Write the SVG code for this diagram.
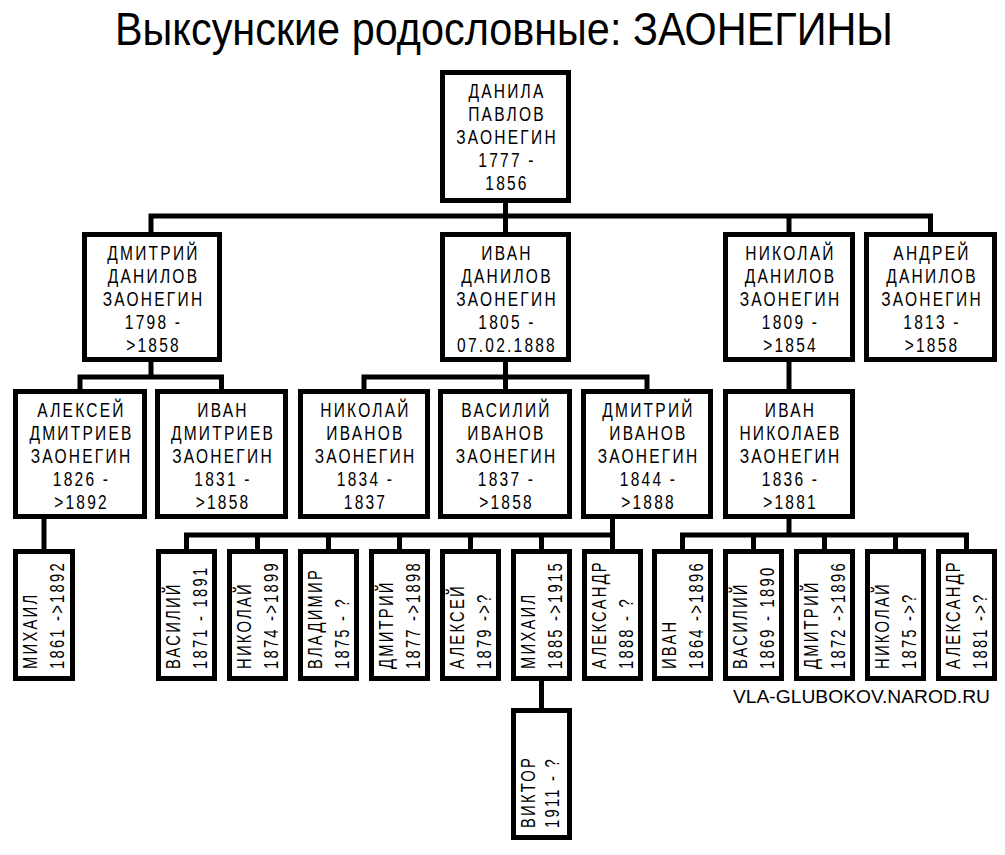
<svg xmlns="http://www.w3.org/2000/svg" width="1005" height="855" viewBox="0 0 1005 855">
<style>
.box{fill:#fff;stroke:#000;stroke-width:5}
.ln{fill:none;stroke:#000;stroke-width:5;stroke-linejoin:miter}
.t{font-family:"Liberation Sans",Arial,sans-serif;font-size:21px;letter-spacing:3px;text-anchor:middle;fill:#000}
.v{font-family:"Liberation Sans",Arial,sans-serif;font-size:20px;letter-spacing:3px;fill:#000}
.title{font-family:"Liberation Sans",Arial,sans-serif;font-size:46px;fill:#000}
.wm{font-family:"Liberation Sans",Arial,sans-serif;font-size:18px;fill:#000}
</style>
<rect width="1005" height="855" fill="#fff"/>
<text class="title" x="115" y="45" textLength="778" lengthAdjust="spacingAndGlyphs">Выксунские родословные: ЗАОНЕГИНЫ</text>
<text class="wm" x="733" y="703" textLength="257" lengthAdjust="spacingAndGlyphs">VLA-GLUBOKOV.NAROD.RU</text>

<g id="connectors">
<path class="ln" d="M151 232 V216 H930.5 V232 M505.5 203 V232 M789 216 V232"/>
<path class="ln" d="M151 362 V377 M80 389 V377 H221.5 V389"/>
<path class="ln" d="M505.5 362 V389 M364 389 V377 H647 V389"/>
<path class="ln" d="M789 362 V389"/>
<path class="ln" d="M44 519 V549"/>
<path class="ln" d="M612.5 519 V549 M186.5 549 V535 H612.5 M257.5 535 V549 M328.5 535 V549 M399.5 535 V549 M470.5 535 V549 M541.5 535 V549"/>
<path class="ln" d="M789 519 V535 M682.5 549 V535 H966.5 V549 M753.5 535 V549 M824.5 535 V549 M895.5 535 V549"/>
<path class="ln" d="M541.5 681 V708"/>
</g>

<g id="danila">
<rect class="box" x="442.5" y="72.5" width="126" height="128"/>
<text class="t" transform="translate(507 98) scale(0.74 1)">ДАНИЛА</text>
<text class="t" transform="translate(507 121) scale(0.74 1)">ПАВЛОВ</text>
<text class="t" transform="translate(507 144) scale(0.74 1)">ЗАОНЕГИН</text>
<text class="t" transform="translate(507 167) scale(0.74 1)">1777 -</text>
<text class="t" transform="translate(507 190) scale(0.74 1)">1856</text>
</g>

<g id="dmitriy-d">
<rect class="box" x="84.5" y="234.5" width="135" height="125"/>
<text class="t" transform="translate(153.5 259.5) scale(0.74 1)">ДМИТРИЙ</text>
<text class="t" transform="translate(153.5 282.5) scale(0.74 1)">ДАНИЛОВ</text>
<text class="t" transform="translate(153.5 305.5) scale(0.74 1)">ЗАОНЕГИН</text>
<text class="t" transform="translate(153.5 328.5) scale(0.74 1)">1798 -</text>
<text class="t" transform="translate(153.5 351.5) scale(0.74 1)">&gt;1858</text>
</g>

<g id="ivan-d">
<rect class="box" x="442.5" y="234.5" width="126" height="125"/>
<text class="t" transform="translate(507 259.5) scale(0.74 1)">ИВАН</text>
<text class="t" transform="translate(507 282.5) scale(0.74 1)">ДАНИЛОВ</text>
<text class="t" transform="translate(507 305.5) scale(0.74 1)">ЗАОНЕГИН</text>
<text class="t" transform="translate(507 328.5) scale(0.74 1)">1805 -</text>
<text class="t" transform="translate(507 351.5) scale(0.74 1)">07.02.1888</text>
</g>

<g id="nikolay-d">
<rect class="box" x="725.5" y="234.5" width="127" height="125"/>
<text class="t" transform="translate(790.5 259.5) scale(0.74 1)">НИКОЛАЙ</text>
<text class="t" transform="translate(790.5 282.5) scale(0.74 1)">ДАНИЛОВ</text>
<text class="t" transform="translate(790.5 305.5) scale(0.74 1)">ЗАОНЕГИН</text>
<text class="t" transform="translate(790.5 328.5) scale(0.74 1)">1809 -</text>
<text class="t" transform="translate(790.5 351.5) scale(0.74 1)">&gt;1854</text>
</g>

<g id="andrey-d">
<rect class="box" x="866.5" y="234.5" width="128" height="125"/>
<text class="t" transform="translate(932 259.5) scale(0.74 1)">АНДРЕЙ</text>
<text class="t" transform="translate(932 282.5) scale(0.74 1)">ДАНИЛОВ</text>
<text class="t" transform="translate(932 305.5) scale(0.74 1)">ЗАОНЕГИН</text>
<text class="t" transform="translate(932 328.5) scale(0.74 1)">1813 -</text>
<text class="t" transform="translate(932 351.5) scale(0.74 1)">&gt;1858</text>
</g>

<g id="aleksey-dm">
<rect class="box" x="15.5" y="391.5" width="129" height="125"/>
<text class="t" transform="translate(81.5 416.5) scale(0.74 1)">АЛЕКСЕЙ</text>
<text class="t" transform="translate(81.5 439.5) scale(0.74 1)">ДМИТРИЕВ</text>
<text class="t" transform="translate(81.5 462.5) scale(0.74 1)">ЗАОНЕГИН</text>
<text class="t" transform="translate(81.5 485.5) scale(0.74 1)">1826 -</text>
<text class="t" transform="translate(81.5 508.5) scale(0.74 1)">&gt;1892</text>
</g>

<g id="ivan-dm">
<rect class="box" x="157.5" y="391.5" width="128" height="125"/>
<text class="t" transform="translate(223 416.5) scale(0.74 1)">ИВАН</text>
<text class="t" transform="translate(223 439.5) scale(0.74 1)">ДМИТРИЕВ</text>
<text class="t" transform="translate(223 462.5) scale(0.74 1)">ЗАОНЕГИН</text>
<text class="t" transform="translate(223 485.5) scale(0.74 1)">1831 -</text>
<text class="t" transform="translate(223 508.5) scale(0.74 1)">&gt;1858</text>
</g>

<g id="nikolay-iv">
<rect class="box" x="300.5" y="391.5" width="127" height="125"/>
<text class="t" transform="translate(365.5 416.5) scale(0.74 1)">НИКОЛАЙ</text>
<text class="t" transform="translate(365.5 439.5) scale(0.74 1)">ИВАНОВ</text>
<text class="t" transform="translate(365.5 462.5) scale(0.74 1)">ЗАОНЕГИН</text>
<text class="t" transform="translate(365.5 485.5) scale(0.74 1)">1834 -</text>
<text class="t" transform="translate(365.5 508.5) scale(0.74 1)">1837</text>
</g>

<g id="vasiliy-iv">
<rect class="box" x="440.5" y="391.5" width="129" height="125"/>
<text class="t" transform="translate(506.5 416.5) scale(0.74 1)">ВАСИЛИЙ</text>
<text class="t" transform="translate(506.5 439.5) scale(0.74 1)">ИВАНОВ</text>
<text class="t" transform="translate(506.5 462.5) scale(0.74 1)">ЗАОНЕГИН</text>
<text class="t" transform="translate(506.5 485.5) scale(0.74 1)">1837 -</text>
<text class="t" transform="translate(506.5 508.5) scale(0.74 1)">&gt;1858</text>
</g>

<g id="dmitriy-iv">
<rect class="box" x="583.5" y="391.5" width="127" height="125"/>
<text class="t" transform="translate(648.5 416.5) scale(0.74 1)">ДМИТРИЙ</text>
<text class="t" transform="translate(648.5 439.5) scale(0.74 1)">ИВАНОВ</text>
<text class="t" transform="translate(648.5 462.5) scale(0.74 1)">ЗАОНЕГИН</text>
<text class="t" transform="translate(648.5 485.5) scale(0.74 1)">1844 -</text>
<text class="t" transform="translate(648.5 508.5) scale(0.74 1)">&gt;1888</text>
</g>

<g id="ivan-nik">
<rect class="box" x="725.5" y="391.5" width="127" height="125"/>
<text class="t" transform="translate(790.5 416.5) scale(0.74 1)">ИВАН</text>
<text class="t" transform="translate(790.5 439.5) scale(0.74 1)">НИКОЛАЕВ</text>
<text class="t" transform="translate(790.5 462.5) scale(0.74 1)">ЗАОНЕГИН</text>
<text class="t" transform="translate(790.5 485.5) scale(0.74 1)">1836 -</text>
<text class="t" transform="translate(790.5 508.5) scale(0.74 1)">&gt;1881</text>
</g>

<g id="mihail-al">
<rect class="box" x="15.5" y="551.5" width="57" height="127"/>
<text class="v" transform="translate(37 669) rotate(-90) scale(0.74 1)">МИХАИЛ</text>
<text class="v" transform="translate(64 669) rotate(-90) scale(0.74 1)">1861 -&gt;1892</text>
</g>

<g id="vasiliy-dm">
<rect class="box" x="158.5" y="551.5" width="56" height="127"/>
<text class="v" transform="translate(180 669) rotate(-90) scale(0.74 1)">ВАСИЛИЙ</text>
<text class="v" transform="translate(207 669) rotate(-90) scale(0.74 1)">1871 - 1891</text>
</g>

<g id="nikolay-dm">
<rect class="box" x="229.5" y="551.5" width="56" height="127"/>
<text class="v" transform="translate(251 669) rotate(-90) scale(0.74 1)">НИКОЛАЙ</text>
<text class="v" transform="translate(278 669) rotate(-90) scale(0.74 1)">1874 -&gt;1899</text>
</g>

<g id="vladimir-dm">
<rect class="box" x="300.5" y="551.5" width="56" height="127"/>
<text class="v" transform="translate(322 669) rotate(-90) scale(0.74 1)">ВЛАДИМИР</text>
<text class="v" transform="translate(349 669) rotate(-90) scale(0.74 1)">1875 - ?</text>
</g>

<g id="dmitriy-dm">
<rect class="box" x="371.5" y="551.5" width="56" height="127"/>
<text class="v" transform="translate(393 669) rotate(-90) scale(0.74 1)">ДМИТРИЙ</text>
<text class="v" transform="translate(420 669) rotate(-90) scale(0.74 1)">1877 -&gt;1898</text>
</g>

<g id="aleksey-dm2">
<rect class="box" x="442.5" y="551.5" width="56" height="127"/>
<text class="v" transform="translate(464 669) rotate(-90) scale(0.74 1)">АЛЕКСЕЙ</text>
<text class="v" transform="translate(491 669) rotate(-90) scale(0.74 1)">1879 -&gt;?</text>
</g>

<g id="mihail-dm">
<rect class="box" x="513.5" y="551.5" width="56" height="127"/>
<text class="v" transform="translate(535 669) rotate(-90) scale(0.74 1)">МИХАИЛ</text>
<text class="v" transform="translate(562 669) rotate(-90) scale(0.74 1)">1885 -&gt;1915</text>
</g>

<g id="aleksandr-dm">
<rect class="box" x="584.5" y="551.5" width="56" height="127"/>
<text class="v" transform="translate(606 669) rotate(-90) scale(0.74 1)">АЛЕКСАНДР</text>
<text class="v" transform="translate(633 669) rotate(-90) scale(0.74 1)">1888 - ?</text>
</g>

<g id="ivan-in">
<rect class="box" x="654.5" y="551.5" width="56" height="127"/>
<text class="v" transform="translate(676 669) rotate(-90) scale(0.74 1)">ИВАН</text>
<text class="v" transform="translate(703 669) rotate(-90) scale(0.74 1)">1864 -&gt;1896</text>
</g>

<g id="vasiliy-in">
<rect class="box" x="725.5" y="551.5" width="56" height="127"/>
<text class="v" transform="translate(747 669) rotate(-90) scale(0.74 1)">ВАСИЛИЙ</text>
<text class="v" transform="translate(774 669) rotate(-90) scale(0.74 1)">1869 - 1890</text>
</g>

<g id="dmitriy-in">
<rect class="box" x="796.5" y="551.5" width="56" height="127"/>
<text class="v" transform="translate(818 669) rotate(-90) scale(0.74 1)">ДМИТРИЙ</text>
<text class="v" transform="translate(845 669) rotate(-90) scale(0.74 1)">1872 -&gt;1896</text>
</g>

<g id="nikolay-in">
<rect class="box" x="867.5" y="551.5" width="56" height="127"/>
<text class="v" transform="translate(889 669) rotate(-90) scale(0.74 1)">НИКОЛАЙ</text>
<text class="v" transform="translate(916 669) rotate(-90) scale(0.74 1)">1875 -&gt;?</text>
</g>

<g id="aleksandr-in">
<rect class="box" x="938.5" y="551.5" width="56" height="127"/>
<text class="v" transform="translate(960 669) rotate(-90) scale(0.74 1)">АЛЕКСАНДР</text>
<text class="v" transform="translate(987 669) rotate(-90) scale(0.74 1)">1881 -&gt;?</text>
</g>

<g id="viktor">
<rect class="box" x="513.5" y="710.5" width="56" height="127"/>
<text class="v" transform="translate(535 828) rotate(-90) scale(0.74 1)">ВИКТОР</text>
<text class="v" transform="translate(559 828) rotate(-90) scale(0.74 1)">1911 - ?</text>
</g>
</svg>
